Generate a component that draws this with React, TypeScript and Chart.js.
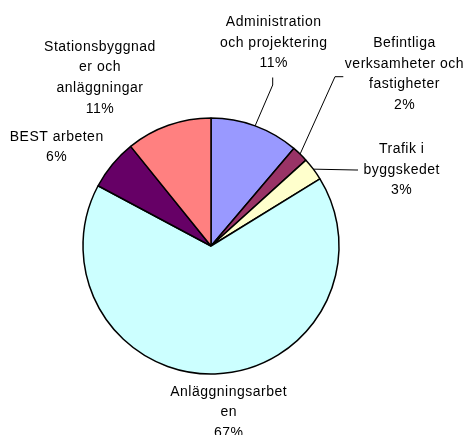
import React, { useEffect, useRef } from "react";
import { Chart, registerables } from "chart.js";

Chart.register(...registerables);

const categories = [
  "Administration och projektering",
  "Befintliga verksamheter och fastigheter",
  "Trafik i byggskedet",
  "Anläggningsarbeten",
  "BEST arbeten",
  "Stationsbyggnader och anläggningar",
];
const values = [11.2, 2.1, 2.9, 66.6, 6.4, 10.8];
const colors = ["#9999FF", "#993366", "#FFFFCC", "#CCFFFF", "#660066", "#FF8080"];
const labelLines = [
  ["Administration", "och projektering"],
  ["Befintliga", "verksamheter och", "fastigheter"],
  ["Trafik i", "byggskedet"],
  ["Anläggningsarbet", "en"],
  ["BEST arbeten"],
  ["Stationsbyggnad", "er och", "anläggningar"],
];
// label layout relative to pie centre: text centre x, first line y, leader elbow, leader end
const labelLayout = [
  { x: 62.7, y: -224, elbow: [61.7, -161], end: [61.7, -168.5] },
  { x: 193.5, y: -203, elbow: [124, -169.3], end: [132.3, -169.3] },
  { x: 190.7, y: -97, elbow: [145, -76], end: [147, -76] },
  { x: 17.7, y: 145.7, elbow: null, end: null },
  { x: -154.3, y: -109.3, elbow: null, end: null },
  { x: -111, y: -199.3, elbow: null, end: null },
];

const labelPlugin = {
  id: "pieLabels",
  afterDraw(chart: any) {
    const ctx = chart.ctx;
    const meta = chart.getDatasetMeta(0);
    const total = values.reduce((a, b) => a + b, 0);
    ctx.save();
    ctx.font = "14px 'Liberation Sans', Arial, sans-serif";
    try { (ctx as any).letterSpacing = "0.5px"; } catch (e) {}
    ctx.fillStyle = "#000";
    ctx.textAlign = "center";
    ctx.textBaseline = "middle";
    meta.data.forEach((arc: any, i: number) => {
      const { x: cx, y: cy, startAngle, endAngle, outerRadius } = arc.getProps(
        ["x", "y", "startAngle", "endAngle", "outerRadius"],
        true
      );
      const lay = labelLayout[i];
      const lines = [...labelLines[i], Math.round((values[i] / total) * 100) + "%"];
      lines.forEach((t, k) => {
        ctx.fillText(t, cx + lay.x, cy + lay.y + k * 20.7);
      });
      if (lay.elbow && lay.end) {
        const mid = (startAngle + endAngle) / 2;
        const ax = cx + Math.cos(mid) * outerRadius;
        const ay = cy + Math.sin(mid) * outerRadius;
        ctx.beginPath();
        ctx.strokeStyle = "#000";
        ctx.lineWidth = 1;
        ctx.moveTo(ax, ay);
        ctx.lineTo(cx + lay.elbow[0], cy + lay.elbow[1]);
        ctx.lineTo(cx + lay.end[0], cy + lay.end[1]);
        ctx.stroke();
      }
    });
    ctx.restore();
  },
};

export default function App() {
  const ref = useRef<HTMLCanvasElement | null>(null);
  useEffect(() => {
    if (!ref.current) return;
    const chart = new Chart(ref.current, {
      type: "pie",
      data: {
        labels: categories,
        datasets: [
          {
            data: values,
            backgroundColor: colors,
            borderColor: "#000",
            borderWidth: 1.5,
          },
        ],
      },
      options: {
        responsive: false,
        animation: false,
        radius: 128,
        layout: { padding: { left: 0, right: 43, top: 57, bottom: 0 } },
        plugins: {
          legend: { display: false },
          tooltip: { enabled: false },
        },
      } as any,
      plugins: [labelPlugin],
    });
    return () => chart.destroy();
  }, []);
  return (
    <div style={{ position: "fixed", left: 0, top: 0, width: 465, height: 435, background: "#fff" }}>
      <canvas ref={ref} width={465} height={435} style={{ width: 465, height: 435 }} />
    </div>
  );
}
